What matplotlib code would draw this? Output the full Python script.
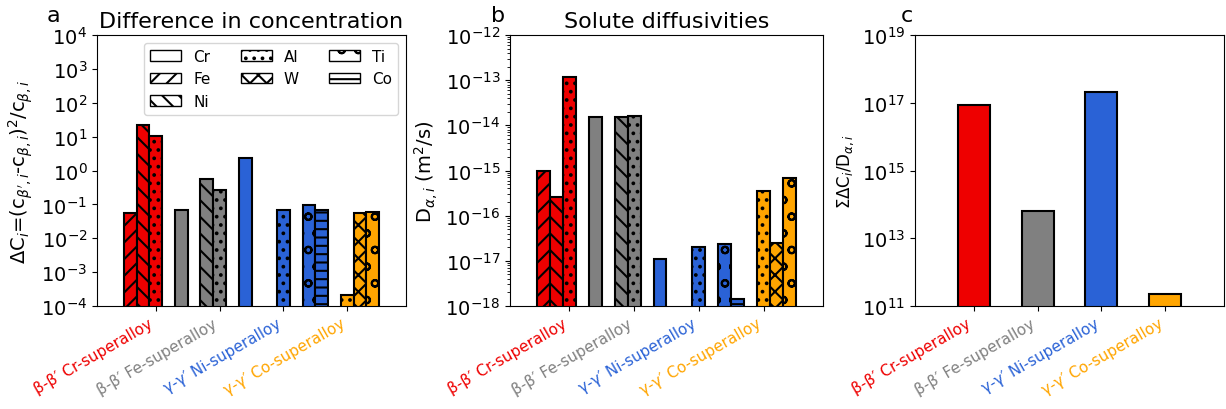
import numpy as np
import matplotlib
matplotlib.use('Agg')
import matplotlib.pyplot as plt
from matplotlib.patches import Patch
from matplotlib.ticker import NullLocator, FixedLocator

plt.rcParams['font.family'] = ['DejaVu Sans']
plt.rcParams['font.size'] = 14
plt.rcParams['hatch.linewidth'] = 1.5

# ---------------- data ----------------
alloys = ["β-β′ Cr-superalloy", "β-β′ Fe-superalloy",
          "γ-γ′ Ni-superalloy", "γ-γ′ Co-superalloy"]
alloy_colors = ['#ee0000', '#808080', '#2a62d6', '#ffa500']

elements = ['Cr', 'Fe', 'Ni', 'Al', 'W', 'Ti', 'Co']
hatches = ['', '//', '\\\\', '..', 'xx', 'o', '--']

nan = np.nan
# Difference in concentration, per element, for the 4 alloys
dC_Cr = [nan, 0.070, 2.35, nan]
dC_Fe = [0.055, nan, nan, nan]
dC_Ni = [22.6, 0.58, nan, nan]
dC_Al = [10.3, 0.27, 0.066, 2.1e-4]
dC_W = [nan, nan, nan, 0.056]
dC_Ti = [nan, nan, 0.097, 0.061]
dC_Co = [nan, nan, 0.070, nan]

# Solute diffusivities (m^2/s)
D_Cr = [nan, 1.5e-14, 1.1e-17, nan]
D_Fe = [1.0e-15, nan, nan, nan]
D_Ni = [2.6e-16, 1.5e-14, nan, nan]
D_Al = [1.16e-13, 1.64e-14, 2.0e-17, 3.5e-16]
D_W = [nan, nan, nan, 2.45e-17]
D_Ti = [nan, nan, 2.3e-17, 6.8e-16]
D_Co = [nan, nan, 1.43e-18, nan]

# Sum of dC / D
sum_dC_D = [8.5e16, 6.2e13, 2.1e17, 2.2e11]

dC_all = [dC_Cr, dC_Fe, dC_Ni, dC_Al, dC_W, dC_Ti, dC_Co]
D_all = [D_Cr, D_Fe, D_Ni, D_Al, D_W, D_Ti, D_Co]

# ---------------- figure ----------------
W, H = 1226, 410
fig = plt.figure(figsize=(W / 100, H / 100), dpi=100)

def px_axes(l, r, t, b):
    return fig.add_axes([l / W, 1 - b / H, (r - l) / W, (b - t) / H])

axa = px_axes(97, 406, 36, 307)
axb = px_axes(510, 823, 36, 307)
axc = px_axes(915, 1224, 36, 307)

x = np.arange(len(alloys))
bw = 0.2

def grouped(ax, data):
    for j, vals in enumerate(data):
        ax.bar(x + (j - 3) * bw, vals, width=bw, color=alloy_colors,
               edgecolor='black', linewidth=1.5, hatch=hatches[j])

def style_x(ax):
    ax.set_xticks(x)
    ax.set_xticklabels(alloys, rotation=30, ha='right', fontsize=11)
    for lab, c in zip(ax.get_xticklabels(), alloy_colors):
        lab.set_color(c)
    ax.set_xlim(-0.92, 3.92)

# panel a
grouped(axa, dC_all)
axa.set_yscale('log')
axa.set_ylim(1e-4, 1e4)
axa.yaxis.set_major_locator(FixedLocator(10.0 ** np.arange(-4, 5)))
axa.yaxis.set_minor_locator(NullLocator())
axa.set_ylabel(r"$\Delta$C$_i$=(c$_{\beta',i}$-c$_{\beta,i}$)$^2$/c$_{\beta,i}$")
axa.set_title('Difference in concentration', fontsize=16)
style_x(axa)
handles = [Patch(facecolor='white', edgecolor='black', hatch=h, label=e)
           for e, h in zip(elements, hatches)]
axa.legend(handles=handles, loc='upper right', ncol=3, fontsize=11)

# panel b
grouped(axb, D_all)
axb.set_yscale('log')
axb.set_ylim(1e-18, 1e-12)
axb.yaxis.set_major_locator(FixedLocator(10.0 ** np.arange(-18, -11)))
axb.set_ylabel(r"D$_{\alpha,i}$ (m$^2$/s)")
axb.set_title('Solute diffusivities', fontsize=16)
style_x(axb)

# panel c
axc.bar(x, sum_dC_D, width=0.5, color=alloy_colors, edgecolor='black', linewidth=1.5)
axc.set_yscale('log')
axc.set_ylim(1e11, 1e19)
axc.yaxis.set_major_locator(FixedLocator(10.0 ** np.arange(11, 20, 2)))
axc.yaxis.set_minor_locator(NullLocator())
axc.set_ylabel(r"$\Sigma\Delta$C$_i$/D$_{\alpha,i}$", fontsize=12)
style_x(axc)

for lbl, xp in zip(['a', 'b', 'c'], [53, 498, 907]):
    fig.text(xp / W, 1 - 22 / H, lbl, fontsize=16, ha='center', va='baseline')

fig.savefig('out.png', dpi=100)
